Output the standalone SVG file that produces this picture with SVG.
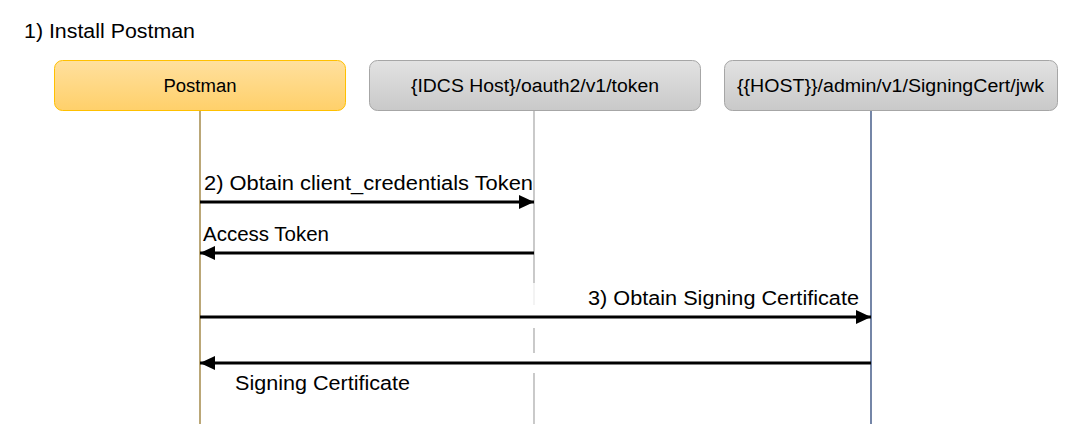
<svg xmlns="http://www.w3.org/2000/svg" width="1084" height="444" viewBox="0 0 1084 444">
  <defs>
    <linearGradient id="gOrange" x1="0" y1="0" x2="0" y2="1">
      <stop offset="0" stop-color="#FFE09E"/>
      <stop offset="1" stop-color="#FFD06A"/>
    </linearGradient>
    <linearGradient id="gGray" x1="0" y1="0" x2="0" y2="1">
      <stop offset="0" stop-color="#E2E2E2"/>
      <stop offset="1" stop-color="#C9C9C9"/>
    </linearGradient>
    <marker id="arrow" viewBox="0 0 15 14" refX="15" refY="7" markerWidth="15" markerHeight="14" markerUnits="userSpaceOnUse" orient="auto">
      <path d="M0,0 L15,7 L0,14 Z" fill="#000"/>
    </marker>
  </defs>
  <style>
    text { font-family: "Liberation Sans", Arial, sans-serif; fill: #000; }
    .lbl { font-size: 20px; }
    .box { font-size: 18px; text-anchor: middle; }
    .msg { stroke: #000; stroke-width: 3; fill: none; marker-end: url(#arrow); }
  </style>
  <rect width="1084" height="444" fill="#fff"/>
  <text class="lbl" x="24" y="38" textLength="171" lengthAdjust="spacingAndGlyphs">1) Install Postman</text>

  <g id="postman">
    <line x1="200" y1="110" x2="200" y2="424" stroke="#96782E" stroke-width="1.3"/>
    <rect x="54.5" y="60.5" width="291" height="50" rx="8" fill="url(#gOrange)" stroke="#FFC000" stroke-width="1"/>
    <text class="box" x="200" y="92" textLength="73" lengthAdjust="spacingAndGlyphs">Postman</text>
  </g>

  <g id="idcs">
    <line x1="534" y1="110" x2="534" y2="283" stroke="#A6A6A6" stroke-width="1.2"/>
    <line x1="534" y1="283" x2="534" y2="305" stroke="#EBEBEB" stroke-width="1.2"/>
    <line x1="534" y1="328" x2="534" y2="353" stroke="#A6A6A6" stroke-width="1.2"/>
    <line x1="534" y1="373" x2="534" y2="424" stroke="#A6A6A6" stroke-width="1.2"/>
    <rect x="369.5" y="60.5" width="331" height="50" rx="8" fill="url(#gGray)" stroke="#A6A6A6" stroke-width="1"/>
    <text class="box" x="535" y="92" textLength="248" lengthAdjust="spacingAndGlyphs">{IDCS Host}/oauth2/v1/token</text>
  </g>

  <g id="host">
    <line x1="871" y1="110" x2="871" y2="424" stroke="#2A4478" stroke-width="1.3"/>
    <rect x="724.5" y="60.5" width="333" height="50" rx="8" fill="url(#gGray)" stroke="#A6A6A6" stroke-width="1"/>
    <text class="box" x="890.5" y="92" textLength="307" lengthAdjust="spacingAndGlyphs">{{HOST}}/admin/v1/SigningCert/jwk</text>
  </g>

  <g id="connectors">
    <line class="msg" x1="200" y1="202" x2="534" y2="202"/>
    <text class="lbl" x="204" y="190" textLength="329" lengthAdjust="spacingAndGlyphs">2) Obtain client_credentials Token</text>
    <line class="msg" x1="534" y1="253" x2="200" y2="253"/>
    <text class="lbl" x="203" y="241" textLength="126" lengthAdjust="spacingAndGlyphs">Access Token</text>
    <line class="msg" x1="200" y1="317" x2="871" y2="317"/>
    <text class="lbl" x="588" y="305" textLength="271" lengthAdjust="spacingAndGlyphs">3) Obtain Signing Certificate</text>
    <line class="msg" x1="871" y1="363" x2="200" y2="363"/>
    <text class="lbl" x="235" y="390" textLength="175" lengthAdjust="spacingAndGlyphs">Signing Certificate</text>
  </g>
</svg>
